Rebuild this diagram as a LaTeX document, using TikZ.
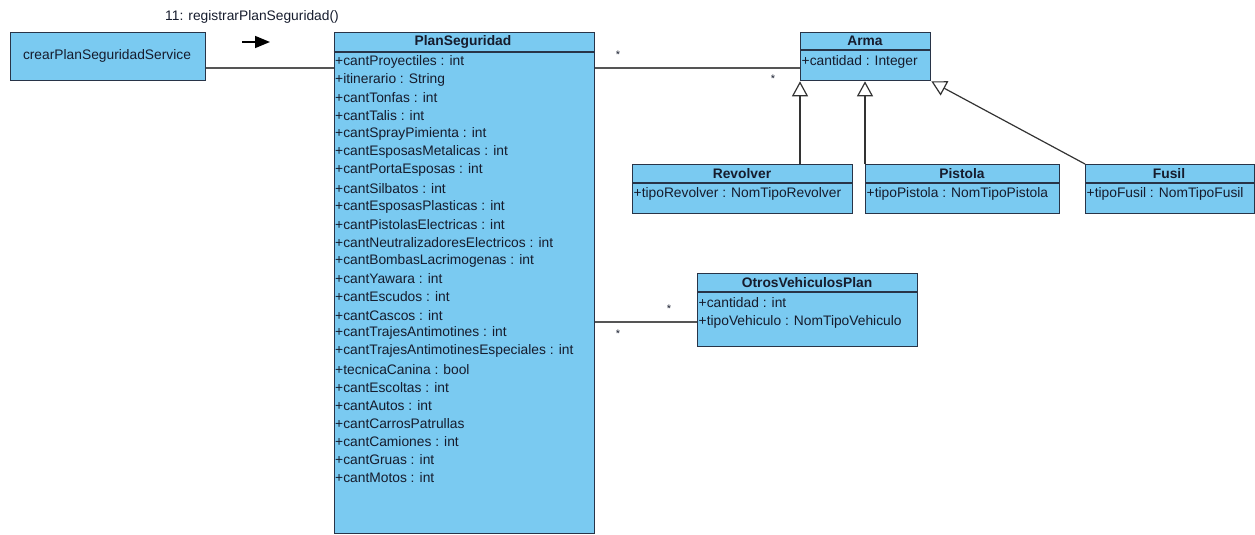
\documentclass[tikz,border=0pt]{standalone}
\usepackage{fontspec}
\setmainfont{Liberation Sans}
\usepackage{tikz}
\usetikzlibrary{arrows.meta,positioning}
\definecolor{classblue}{RGB}{122,202,241}
\definecolor{boxline}{RGB}{40,52,72}
\definecolor{linkgray}{RGB}{85,85,85}
\definecolor{textdark}{RGB}{22,28,45}
\tikzset{
  classbox/.style={
    shape = rectangle,
    draw = boxline,
    fill = classblue,
    line width = 1.3pt,
    inner sep = 0pt,
    anchor = north west
  },
  headline/.style={
    draw = boxline,
    line width = 1.2pt
  },
  classname/.style={
    font = \fontsize{13.8}{16}\selectfont\bfseries,
    text = textdark,
    inner sep = 0pt
  },
  attr/.style={
    anchor = west,
    font = \fontsize{13.8}{16}\selectfont,
    text = textdark,
    inner sep = 0pt
  },
  assoc/.style={
    draw = linkgray,
    line width = 1.2pt
  },
  gen/.style={
    draw = black!80,
    line width = 1.2pt,
    -{Triangle[open,length=15pt,width=16pt,line width=1.2pt]}
  },
  mult/.style={
    font = \fontsize{11}{12}\selectfont,
    text = textdark,
    inner sep = 0pt
  }
}
\begin{document}
\begin{tikzpicture}[x=1pt,y=-1pt]
    \useasboundingbox (0,0) rectangle (1255,535);

    % service
    \node[classbox, minimum width=195pt, minimum height=48pt] (srv) at (10,32) {};
    \node[attr, anchor=center] (srvname) at (107,56) {crearPlanSeguridadService};
    \node[attr, anchor=center] (msg) at (252,17) {11: registrarPlanSeguridad()};
    \coordinate (msgtail) at (242,42);
    \coordinate (msghead) at (270,42);
    \draw[line width=1.6pt, -{Triangle[length=15pt,width=12pt]}] (msgtail) -- (msghead);

    % PlanSeguridad
    \node[classbox, minimum width=260pt, minimum height=501pt] (plan) at (333.5,32) {};
    \draw[headline] ([yshift=-20pt]plan.north west) -- ([yshift=-20pt]plan.north east);
    \node[classname] (plantitle) at (463,42) {PlanSeguridad};
    \node[attr] (p1) at (335,61.7) {+cantProyectiles : int};
    \node[attr] (p2) at (335,79.8) {+itinerario : String};
    \node[attr] (p3) at (335,97.9) {+cantTonfas : int};
    \node[attr] (p4) at (335,116.0) {+cantTalis : int};
    \node[attr] (p5) at (335,134.1) {+cantSprayPimienta : int};
    \node[attr] (p6) at (335,152.2) {+cantEsposasMetalicas : int};
    \node[attr] (p7) at (335,170.3) {+cantPortaEsposas : int};
    \node[attr] (p8) at (335,188.4) {+cantSilbatos : int};
    \node[attr] (p9) at (335,206.5) {+cantEsposasPlasticas : int};
    \node[attr] (p10) at (335,224.6) {+cantPistolasElectricas : int};
    \node[attr] (p11) at (335,242.7) {+cantNeutralizadoresElectricos : int};
    \node[attr] (p12) at (335,260.8) {+cantBombasLacrimogenas : int};
    \node[attr] (p13) at (335,278.9) {+cantYawara : int};
    \node[attr] (p14) at (335,297.0) {+cantEscudos : int};
    \node[attr] (p15) at (335,315.1) {+cantCascos : int};
    \node[attr] (p16) at (335,333.2) {+cantTrajesAntimotines : int};
    \node[attr] (p17) at (335,351.3) {+cantTrajesAntimotinesEspeciales : int};
    \node[attr] (p18) at (335,369.4) {+tecnicaCanina : bool};
    \node[attr] (p19) at (335,387.5) {+cantEscoltas : int};
    \node[attr] (p20) at (335,405.6) {+cantAutos : int};
    \node[attr] (p21) at (335,423.7) {+cantCarrosPatrullas};
    \node[attr] (p22) at (335,441.8) {+cantCamiones : int};
    \node[attr] (p23) at (335,459.9) {+cantGruas : int};
    \node[attr] (p24) at (335,478.0) {+cantMotos : int};

    \draw[assoc] (srv.east |- 0,68) -- (plan.west |- 0,68);

    % Arma
    \node[classbox, minimum width=130pt, minimum height=48pt] (arma) at (800,32) {};
    \draw[headline] ([yshift=-18pt]arma.north west) -- ([yshift=-18pt]arma.north east);
    \node[classname] (armatitle) at (865,41) {Arma};
    \node[attr] (a1) at (801.5,62) {+cantidad : Integer};

    \draw[assoc] (plan.east |- 0,68) -- (arma.west |- 0,68);
    \node[mult] (m1) at (618,55) {*};
    \node[mult] (m2) at (773,79) {*};

    % Revolver
    \node[classbox, minimum width=220pt, minimum height=49pt] (rev) at (632,164) {};
    \draw[headline] ([yshift=-19pt]rev.north west) -- ([yshift=-19pt]rev.north east);
    \node[classname] (revtitle) at (742,174) {Revolver};
    \node[attr] (r1) at (633.5,194) {+tipoRevolver : NomTipoRevolver};

    % Pistola
    \node[classbox, minimum width=194pt, minimum height=49pt] (pis) at (865,164) {};
    \draw[headline] ([yshift=-19pt]pis.north west) -- ([yshift=-19pt]pis.north east);
    \node[classname] (pistitle) at (962,174) {Pistola};
    \node[attr] (s1) at (866.5,194) {+tipoPistola : NomTipoPistola};

    % Fusil
    \node[classbox, minimum width=169pt, minimum height=49pt] (fus) at (1085,164) {};
    \draw[headline] ([yshift=-19pt]fus.north west) -- ([yshift=-19pt]fus.north east);
    \node[classname] (fustitle) at (1169,174) {Fusil};
    \node[attr] (f1) at (1086.5,194) {+tipoFusil : NomTipoFusil};

    \draw[gen] (rev.north -| arma.south west) -- (arma.south west);
    \draw[gen] (pis.north west) -- (pis.north west |- arma.south);
    \draw[gen] (fus.north west) -- (arma.south east);

    % OtrosVehiculosPlan
    \node[classbox, minimum width=220pt, minimum height=73pt] (otros) at (697,273) {};
    \draw[headline] ([yshift=-19pt]otros.north west) -- ([yshift=-19pt]otros.north east);
    \node[classname] (otrostitle) at (807,283) {OtrosVehiculosPlan};
    \node[attr] (o1) at (698.5,303) {+cantidad : int};
    \node[attr] (o2) at (698.5,322) {+tipoVehiculo : NomTipoVehiculo};

    \draw[assoc] (plan.east |- 0,322) -- (otros.west |- 0,322);
    \node[mult] (m3) at (669,309) {*};
    \node[mult] (m4) at (618,334) {*};
\end{tikzpicture}
\end{document}
